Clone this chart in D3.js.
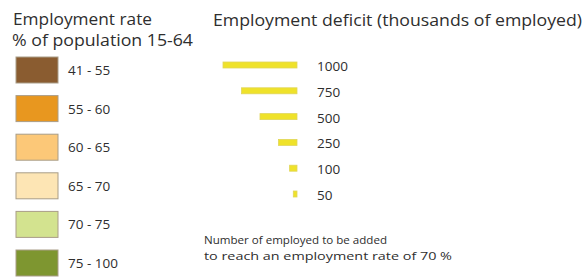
<!DOCTYPE html>
<html>
<head>
<meta charset="utf-8">
<script src="https://cdn.jsdelivr.net/npm/d3@7"></script>
<style>
  body { margin: 0; background: #fff; }
  text { font-family: "Open Sans", sans-serif; fill: #2e2e2e; }
</style>
</head>
<body>
<svg class="graphic"></svg>
<script>
// employment rate classes (% of population 15-64)
var rateBins = ["41 - 55", "55 - 60", "60 - 65", "65 - 70", "70 - 75", "75 - 100"];
var rateColors = ["#8a5c30", "#e8971f", "#fcc878", "#fde5b4", "#d3e38f", "#7e9630"];

// employment deficit, thousands of employed
var deficitValues = [1000, 750, 500, 250, 100, 50];
var deficitLabels = ["1000", "750", "500", "250", "100", "50"];

var width = 587,
    height = 280,
    swatchX = 16,
    swatchW = 42,
    swatchH = 26,
    barRight = 297,
    barH = 6;

var svg = d3.select(".graphic")
    .attr("width", width)
    .attr("height", height);

// fit a title into the width it has in the original
function fitText(sel, len) {
    sel.attr("textLength", len).attr("lengthAdjust", "spacingAndGlyphs");
}

// left legend: employment rate
var rateY = d3.scalePoint()
    .domain(rateBins)
    .range([70, 263]);

var rateColor = d3.scaleOrdinal()
    .domain(rateBins)
    .range(rateColors);

svg.append("text")
    .attr("x", 13)
    .attr("y", 25)
    .attr("font-size", 16.5)
    .text("Employment rate")
    .call(fitText, 139);

svg.append("text")
    .attr("x", 12)
    .attr("y", 46)
    .attr("font-size", 16.5)
    .text("% of population 15-64")
    .call(fitText, 181);

var swatch = svg.selectAll("g.swatch")
    .data(rateBins)
    .enter()
    .append("g")
    .attr("class", "swatch")
    .attr("transform", function(d) { return "translate(0," + rateY(d) + ")"; });

swatch.append("rect")
    .attr("x", swatchX)
    .attr("y", -swatchH / 2)
    .attr("width", swatchW)
    .attr("height", swatchH)
    .attr("fill", function(d) { return rateColor(d); })
    .attr("stroke", "#a99d88")
    .attr("stroke-width", 1);

swatch.append("text")
    .attr("x", 68)
    .attr("y", 5)
    .attr("font-size", 13.5)
    .attr("xml:space", "preserve")
    .text(function(d) { return d; });

// right legend: employment deficit
var deficitY = d3.scalePoint()
    .domain(deficitValues)
    .range([65, 194]);

var barW = d3.scaleLinear()
    .domain([0, 1000])
    .range([0, 74]);

svg.append("text")
    .attr("x", 213)
    .attr("y", 26)
    .attr("font-size", 16.5)
    .text("Employment deficit (thousands of employed)")
    .call(fitText, 369);

var bar = svg.selectAll("g.bar")
    .data(deficitValues)
    .enter()
    .append("g")
    .attr("class", "bar")
    .attr("transform", function(d) { return "translate(0," + deficitY(d) + ")"; });

bar.append("rect")
    .attr("x", function(d) { return barRight - barW(d); })
    .attr("y", -barH / 2)
    .attr("width", function(d) { return barW(d); })
    .attr("height", barH)
    .attr("fill", "#efe22a")
    .attr("stroke", "#e0d65a")
    .attr("stroke-width", 0.8);

bar.append("text")
    .attr("x", 317)
    .attr("y", 6)
    .attr("font-size", 13.5)
    .text(function(d, i) { return deficitLabels[i]; });

// footnote
svg.append("text")
    .attr("x", 204)
    .attr("y", 244)
    .attr("font-size", 11.5)
    .text("Number of employed to be added")
    .call(fitText, 183);

svg.append("text")
    .attr("x", 204)
    .attr("y", 260)
    .attr("font-size", 11.5)
    .text("to reach an employment rate of 70 %")
    .call(fitText, 248);
</script>
</body>
</html>
